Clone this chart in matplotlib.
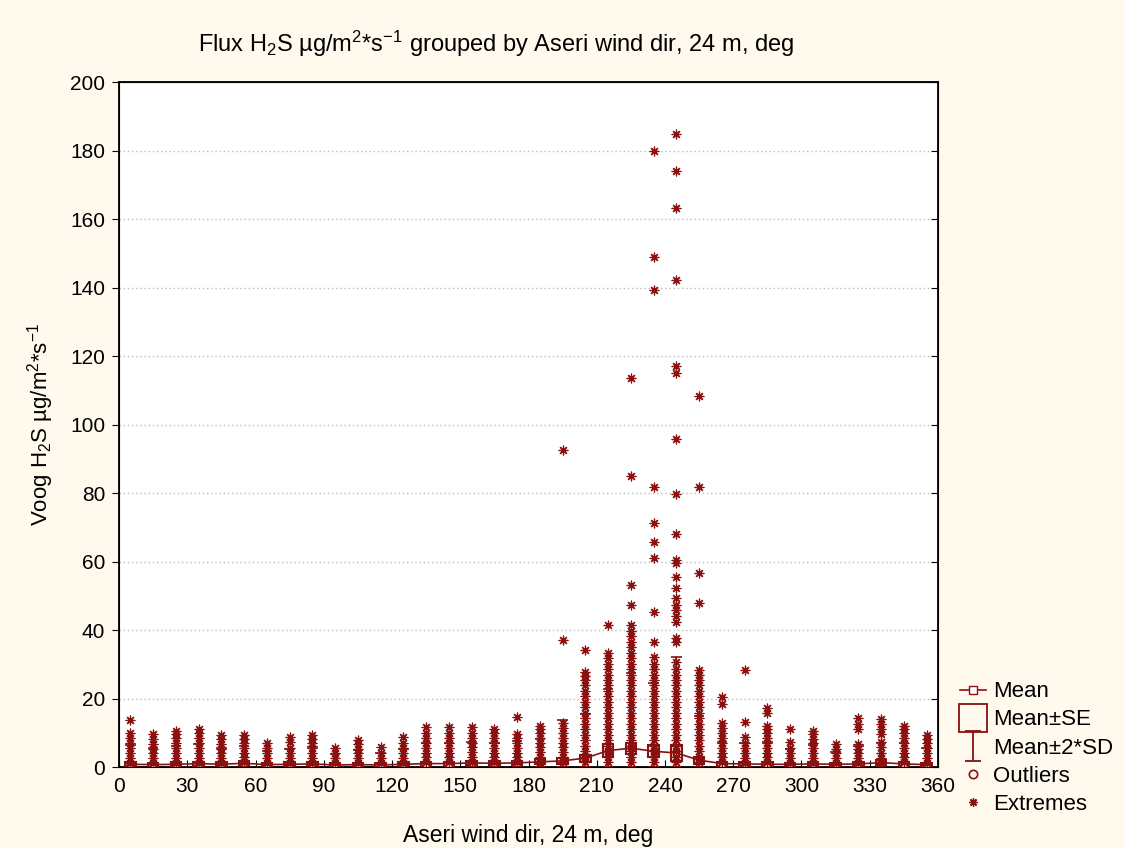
import matplotlib
matplotlib.use("Agg")
import matplotlib.pyplot as plt
from matplotlib.lines import Line2D
from matplotlib.patches import Rectangle
from matplotlib.path import Path

plt.rcParams['font.family'] = ['Liberation Sans', 'DejaVu Sans']
plt.rcParams['mathtext.fontset'] = 'custom'
plt.rcParams['mathtext.rm'] = 'Liberation Sans'
plt.rcParams['mathtext.it'] = 'Liberation Sans'

# wind direction classes (deg)
bins = [5, 15, 25, 35, 45, 55, 65, 75, 85, 95, 105, 115, 125, 135, 145, 155, 165, 175,
        185, 195, 205, 215, 225, 235, 245, 255, 265, 275, 285, 295, 305, 315, 325, 335, 345, 355]

means = [0.8, 0.7, 0.8, 1.0, 0.8, 1.1, 0.7, 0.8, 0.9, 0.6, 0.7, 0.6, 0.8, 1.0, 1.0, 1.2, 1.1, 1.2,
         1.5, 1.8, 2.6, 4.8, 5.5, 4.6, 4.1, 2.0, 1.0, 0.9, 0.8, 0.8, 0.9, 0.8, 0.9, 1.3, 0.9, 0.7]

se = [0.6, 0.6, 0.6, 0.6, 0.6, 0.6, 0.5, 0.6, 0.6, 0.5, 0.5, 0.5, 0.6, 0.6, 0.6, 0.6, 0.6, 0.6,
      0.7, 0.8, 1.0, 1.8, 1.6, 1.8, 2.3, 1.0, 0.6, 0.6, 0.6, 0.5, 0.6, 0.5, 0.6, 0.7, 0.6, 0.5]

sd = [2.8, 2.4, 2.6, 2.8, 2.4, 2.5, 2.0, 2.3, 2.5, 1.6, 2.1, 1.7, 2.3, 3.0, 3.0, 3.0, 2.9, 3.2,
      3.4, 6.0, 6.5, 9.0, 11.0, 10.0, 14.0, 6.5, 3.2, 3.0, 3.2, 2.3, 2.8, 1.8, 2.6, 2.8, 3.0, 2.4]

extremes = [
    [1.2, 2.6, 4.0, 5.5, 7.0, 8.5, 9.9, 13.7],
    [1.2, 2.6, 4.0, 5.4, 6.8, 8.2, 9.6],
    [1.2, 2.6, 4.0, 5.5, 7.0, 8.4, 9.6, 10.6],
    [1.3, 2.7, 4.1, 5.5, 7.0, 8.4, 9.8, 11.0],
    [1.2, 2.6, 4.0, 5.4, 6.8, 8.1, 9.3],
    [1.4, 2.8, 4.2, 5.6, 7.0, 8.2, 9.3],
    [1.2, 2.6, 4.0, 5.5, 7.0],
    [1.2, 2.6, 4.0, 5.5, 7.2, 8.7],
    [1.3, 2.7, 4.1, 5.5, 6.9, 8.1, 9.3],
    [1.2, 2.6, 4.0, 5.5],
    [1.2, 2.6, 4.0, 5.4, 6.7, 7.9],
    [1.2, 2.6, 4.0, 5.9],
    [1.2, 2.6, 4.0, 5.5, 7.0, 8.7],
    [1.4, 2.8, 4.2, 5.6, 7.0, 8.4, 9.8, 11.6],
    [1.4, 2.8, 4.2, 5.6, 7.0, 8.4, 10.0, 11.6],
    [1.5, 2.9, 4.3, 5.7, 7.1, 8.5, 10.0, 11.6],
    [1.4, 2.8, 4.2, 5.6, 7.0, 8.4, 9.8, 11.0],
    [1.4, 2.8, 4.2, 5.6, 7.0, 8.4, 9.6, 14.5],
    [1.5, 2.9, 4.3, 5.7, 7.1, 8.5, 9.9, 11.0, 12.0],
    [1.5, 2.9, 4.3, 5.7, 7.1, 8.5, 9.9, 11.3, 12.8, 37.0, 92.5],
    [1.5, 3.0, 4.6, 6.2, 7.8, 9.4, 11.0, 12.6, 14.2, 15.8, 17.4, 19.0, 20.6, 22.2, 23.8,
     25.4, 26.6, 27.8, 34.2],
    [1.5, 3.0, 4.6, 6.2, 7.8, 9.4, 11.0, 12.6, 14.2, 15.8, 17.4, 19.0, 20.6, 22.2, 23.8,
     25.4, 27.0, 28.6, 30.2, 31.8, 33.3, 41.5],
    [1.5, 3.0, 4.6, 6.2, 7.8, 9.4, 11.0, 12.6, 14.2, 15.8, 17.4, 19.0, 20.6, 22.2, 23.8,
     25.4, 27.0, 28.6, 30.2, 31.8, 33.4, 35.0, 36.6, 38.2, 39.8, 41.5, 47.3, 53.1, 85.0, 113.6],
    [1.5, 3.0, 4.6, 6.2, 7.8, 9.4, 11.0, 12.6, 14.2, 15.8, 17.4, 19.0, 20.6, 22.2, 23.8,
     25.4, 27.0, 28.6, 30.2, 32.2, 36.6, 45.3, 61.1, 65.8, 71.3, 81.8, 139.3, 148.8, 180.0],
    [1.5, 3.0, 4.6, 6.2, 7.8, 9.4, 11.0, 12.6, 14.2, 15.8, 17.4, 19.0, 20.6, 22.2, 23.8,
     25.4, 27.0, 28.6, 30.7, 36.6, 37.6, 42.4, 44.0, 45.7, 47.4, 49.3, 52.2, 55.4, 59.5,
     60.4, 68.0, 79.7, 95.7, 115.1, 117.2, 142.1, 163.3, 173.9, 184.7],
    [1.5, 3.0, 4.6, 6.2, 7.8, 9.4, 11.0, 12.6, 14.2, 15.8, 17.4, 19.0, 20.6, 22.2, 23.8,
     25.4, 26.9, 28.3, 47.8, 56.7, 81.7, 108.3],
    [1.4, 2.8, 4.2, 5.6, 7.0, 8.4, 9.8, 11.3, 12.8, 18.5, 20.5],
    [1.3, 2.7, 4.1, 5.5, 7.0, 8.8, 13.2, 28.4],
    [1.4, 2.8, 4.2, 5.6, 7.0, 8.4, 9.8, 11.0, 12.0, 15.8, 17.3],
    [1.3, 2.7, 4.1, 5.6, 7.2, 11.0],
    [1.3, 2.7, 4.1, 5.5, 6.9, 8.3, 9.5, 10.6],
    [1.3, 2.7, 4.1, 5.4, 6.7],
    [1.3, 2.7, 4.1, 5.4, 6.7, 11.0, 12.6, 14.2],
    [1.3, 2.7, 4.1, 5.7, 7.2, 9.6, 11.0, 12.5, 14.0],
    [1.4, 2.8, 4.2, 5.6, 7.0, 8.4, 9.8, 11.0, 12.0],
    [1.3, 2.7, 4.1, 5.5, 6.9, 8.1, 9.3],
]

red = '#8B1010'
asterisk = (8, 2, 0)

fig = plt.figure(figsize=(11.24, 8.48), dpi=100, facecolor='#FFF9EE')
ax = fig.add_axes([0.1059, 0.0955, 0.7286, 0.8078])
ax.set_facecolor('white')

box_w = 4.6
for x, m, s, d, ext in zip(bins, means, se, sd, extremes):
    lo = max(0.0, m - 2 * d)
    hi = m + 2 * d
    ax.vlines(x, lo, hi, color=red, lw=1.2, zorder=3)
    ax.hlines([lo, hi], x - box_w / 2, x + box_w / 2, color=red, lw=1.2, zorder=3)
    ax.add_patch(Rectangle((x - box_w / 2, m - s), box_w, 2 * s, fill=False,
                           edgecolor=red, lw=1.5, zorder=4))
    ax.scatter([x] * len(ext), ext, marker=asterisk, s=40, color=red, lw=0.9, zorder=5)

ax.plot(bins, means, color=red, lw=1.2, marker='s', ms=4, mfc='white', mec=red, zorder=4)

ax.set_xlim(0, 360)
ax.set_ylim(0, 200)
ax.set_xticks(range(0, 361, 30))
ax.set_yticks(range(0, 201, 20))
ax.yaxis.grid(True, linestyle=(0, (1, 2)), color='#BBBBBB', lw=1)
ax.set_axisbelow(True)
ax.tick_params(axis='x', direction='in', length=5, labelsize=15, pad=7)
ax.tick_params(axis='y', direction='out', length=5, labelsize=15, pad=5)
for sp in ax.spines.values():
    sp.set_linewidth(1.3)

# right-hand ticks point inward
ax_r = ax.twinx()
ax_r.set_ylim(0, 200)
ax_r.set_yticks(range(0, 201, 20))
ax_r.tick_params(axis='y', direction='in', length=5, labelright=False)

ax.set_title(r'Flux H$_2$S µg/m$^2$*s$^{-1}$ grouped by Aseri wind dir, 24 m, deg',
             fontsize=17, pad=22, x=0.46)
ax.set_xlabel('Aseri wind dir, 24 m, deg', fontsize=16.5, labelpad=20)
ax.set_ylabel(r'Voog H$_2$S µg/m$^2$*s$^{-1}$', fontsize=16, labelpad=10)

# whisker symbol for legend
iw = Path([(-0.5, -1), (0.5, -1), (0, -1), (0, 1), (-0.5, 1), (0.5, 1)],
          [Path.MOVETO, Path.LINETO, Path.MOVETO, Path.LINETO, Path.MOVETO, Path.LINETO])
handles = [
    Line2D([], [], color=red, lw=1.2, marker='s', ms=6, mfc='white', mec=red),
    Line2D([], [], ls='none', marker='s', ms=20, mfc='none', mec=red, mew=1.3),
    Line2D([], [], ls='none', marker=iw, ms=22, mec=red, mew=1.3),
    Line2D([], [], ls='none', marker='o', ms=6, mfc='none', mec=red, mew=1.2),
    Line2D([], [], ls='none', marker=asterisk, ms=6, color=red, mew=1.0),
]
labels = ['Mean', 'Mean±SE', 'Mean±2*SD', 'Outliers', 'Extremes']
fig.legend(handles, labels, loc='upper left', bbox_to_anchor=(0.846, 0.207),
           frameon=False, fontsize=16, handlelength=1.2, handletextpad=0.3,
           labelspacing=0.32, borderaxespad=0)

fig.savefig('out.png', dpi=100, facecolor=fig.get_facecolor())
